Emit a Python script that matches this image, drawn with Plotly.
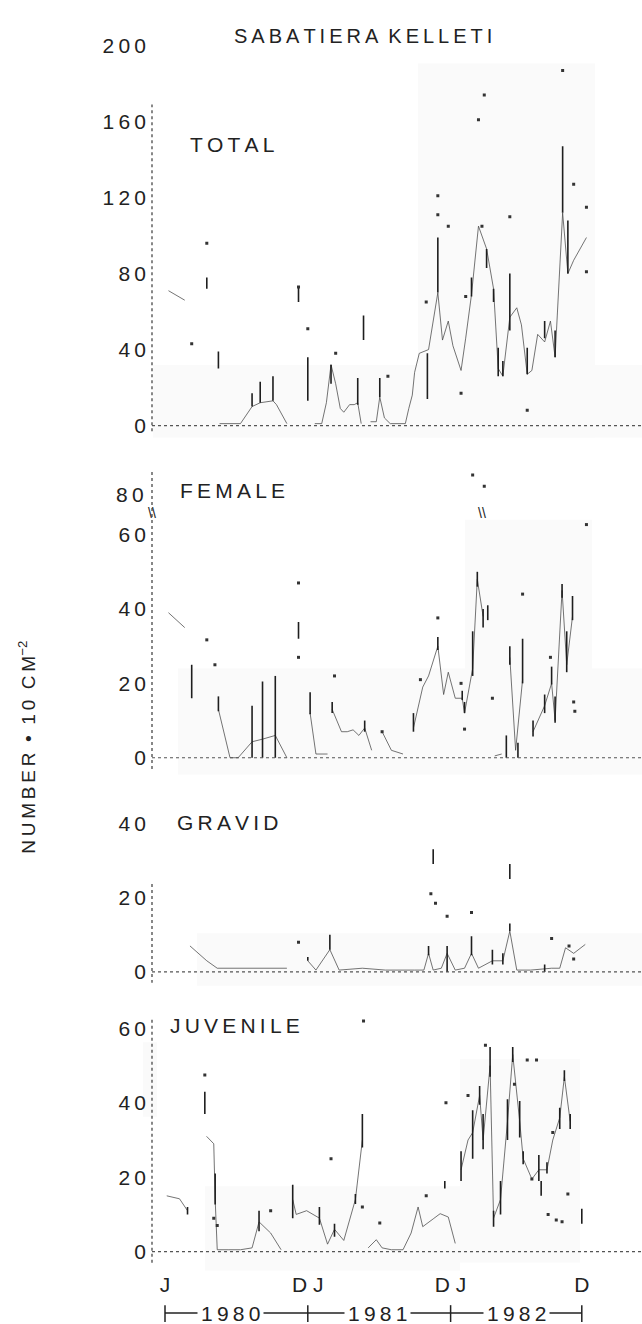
import plotly.graph_objects as go

W, H = 642, 1324
FONT = "Liberation Sans, Arial, sans-serif"
INK = "#222222"

def sp(s):
    return "\u2009".join(s)

def px(x):
    return x / W

def py(y):
    return 1 - y / H

# ---------------- data (months since Jan 1980) ----------------
# TOTAL
tot_t = [0.3, 1.7, None, 4.7, 5.6, 6.5, 7.5, 8.2, 9.3, 9.6, 10.5, None,
         12.9, 13.5, 13.9, 14.3, 14.7, 15.1, 15.4, 15.9, 16.3, 16.6, 16.9, None,
         17.7, 18.2, 18.5, 18.9, 19.4, 20.0, 20.7, 21.0, 21.3, 21.5, 21.9, 22.7,
         23.5, 23.9, 24.4, 24.8, 25.5, 25.9, 26.4, 27.0, 27.7, 28.3, 28.7, 29.1,
         29.7, 30.3, 30.7, 31.2, 31.6, 32.1, 32.7, 33.2, 33.6, 34.25, 34.7, 35.2, 36.3]
tot_v = [71, 66, None, 1, 1, 1, 10, 12, 13, 11, 1, None,
         1, 1, 12, 32, 22, 9, 7, 11, 11, 12, 1, None,
         2, 2, 15, 4, 1, 1, 1, 9, 16, 28, 38, 40,
         70, 45, 55, 42, 29, 46, 69, 105, 93, 72, 30, 26,
         57, 62, 53, 27, 29, 48, 44, 55, 36, 112, 80, 87, 99]
tot_bar_t = [3.6, 4.6, 7.5, 8.2, 9.3, 11.5, 12.3, 14.3, 16.6, 17.1, 18.5, 22.6, 23.5,
             26.4, 27.7, 28.3, 28.7, 29.1, 29.7, 31.2, 32.7, 33.6, 34.25, 34.7]
tot_bar_lo = [72, 30, 10, 12, 13, 65, 13, 22, 11, 45, 15, 14, 70,
              68, 83, 65, 26, 26, 50, 27, 46, 36, 112, 80]
tot_bar_hi = [78, 39, 17, 23, 26, 73, 36, 32, 25, 58, 25, 38, 99,
              78, 93, 72, 41, 34, 80, 41, 55, 50, 147, 108]
tot_dot_t = [2.3, 3.6, 11.5, 12.3, 14.7, 19.2, 22.5, 23.5, 23.5, 24.4, 25.5, 25.9,
             27.0, 27.5, 27.3, 29.7, 31.2, 34.25, 35.2, 36.3, 36.3]
tot_dot_v = [43, 96, 73, 51, 38, 26, 65, 121, 111, 105, 17, 68,
             161, 174, 105, 110, 8, 187, 127, 115, 81]

# FEMALE
fem_t = [0.3, 1.7, None, 4.6, 5.6, 6.3, 7.5, 8.4, 9.5, 10.5, None, 12.5, 13.0, 14.0, None,
         14.4, 14.8, 15.2, 15.7, 16.2, 16.7, 17.2, 17.8, None, 18.7, 19.5, 20.5, None,
         21.4, 22.2, 22.7, 23.5, 24.0, 24.4, 25.0, 25.6, 25.8, 26.5, 26.9, 27.4, None,
         28.4, 29.0, None, 29.7, 30.2, 30.8, None, 31.7, 32.3, 32.7, 33.3, 33.6, 34.2, 34.6, 35.1]
fem_v = [39, 35, None, 13, 0, 0, 4.3, 5, 6, 0, None, 12, 1, 1, None,
         13, 10, 7, 7, 7.5, 6, 8, 2, None, 7, 2, 1, None,
         8, 19, 22, 30, 17, 23, 16, 16, 12, 24, 48, 38, None,
         0.5, 1, None, 27, 2, 21, None, 7, 11, 14, 20, 10, 45, 25, 38]
fem_bar_t = [2.3, 4.6, 7.5, 8.4, 9.5, 11.5, 12.5, 14.4, 17.2, 21.4, 23.5, 25.6, 25.8,
             26.5, 26.9, 27.4, 27.8, 29.4, 29.7, 30.4, 30.8, 31.7, 32.7, 33.3, 33.6,
             34.2, 34.6, 35.1]
fem_bar_lo = [16, 12.5, 0, 0, 0, 32, 11.7, 12, 7, 7, 29, 15.5, 12,
              22, 46, 35, 37, 0, 25, 0, 20, 5.7, 12, 19.7, 9.4,
              43, 23, 37]
fem_bar_hi = [25, 16.5, 14, 20.5, 22, 36.5, 17.6, 15, 10, 12, 32.5, 18, 15,
              34, 50, 40, 41, 6, 30, 4, 32, 10, 17, 24.5, 16.5,
              46.7, 34, 43.5]
fem_dot_t = [3.6, 4.3, 11.5, 11.5, 14.6, 18.7, 22.0, 23.5, 25.5, 25.8, 26.5, 27.5,
             28.2, 30.8, 33.2, 35.2, 35.3, 36.3]
fem_dot_v = [31.7, 25, 47, 27, 22, 7, 21, 37.6, 20, 7.7, 76, 73,
             16, 44, 27, 15, 12.5, 62.7]

# GRAVID
grav_t = [2.15, 3.6, 4.5, 7.0, 8.5, 10.5, None, 12.3, 13.0, 14.2, 15.0, 17.0, 19.0,
          21.5, 22.3, 22.7, 23.1, 23.8, 24.3, 25.0, 25.8, 26.4, 27.0, 28.2, 29.1,
          29.7, 30.3, 31.5, 32.8, 33.3, 34.0, 34.5, 35.2, 36.2]
grav_v = [7, 3, 1, 1, 1, 1, None, 3, 0.5, 6, 0.5, 1, 0.5,
          0.5, 0.5, 5, 0.5, 1, 5, 0.5, 1, 5, 1, 3, 3,
          11, 0.5, 0.5, 1, 1, 1, 6.5, 5, 7.4]
grav_bar_t = [12.3, 14.2, 22.7, 23.1, 24.3, 26.4, 28.2, 29.1, 29.7, 29.7, 32.7]
grav_bar_lo = [3, 6, 4.5, 29, 0, 4.5, 2, 2, 25, 11, 0]
grav_bar_hi = [4, 10, 7, 33, 7, 9.6, 6, 5, 29, 13, 2]
grav_dot_t = [11.5, 22.9, 23.3, 24.3, 26.4, 33.3, 35.2, 34.8]
grav_dot_v = [8, 21, 18.5, 15, 16, 9, 3.5, 7]

# JUVENILE
juv_t = [0.15, 1.25, 1.94, None, 3.58, 4.2, 4.32, 4.5, 5.5, 6.5, 7.5, 8.1, 9.1, 10.0, None,
         11.0, 11.3, 12.2, 13.3, 14.0, 14.6, 15.4, 16.4, 17.0, None,
         17.5, 18.2, 18.7, 19.5, 20.5, 21.2, 21.8, 22.2, 23.1, 23.7, 24.4, 25.0, None,
         25.5, 26.1, 26.5, 27.1, 27.4, 28.0, 28.3, 28.9, 29.5, 29.95, 30.55, 30.85,
         31.6, 32.2, 32.9, 33.4, 34.0, 34.4, 34.9]
juv_v = [15, 14.2, 11, None, 31, 29, 14, 0.5, 0.5, 0.5, 1, 8, 5, 0.5, None,
         14, 10, 11, 9, 2, 6, 3, 14, 30, None,
         1, 3.2, 1, 0.5, 0.5, 5, 12, 6.7, 8.8, 10.2, 9.3, 2.2, None,
         22, 30, 32, 42, 30, 50, 9, 14, 35, 53, 35, 25,
         19.5, 22, 22, 30, 36, 47, 35]
juv_bar_t = [1.94, 3.43, 4.32, 8.1, 11.0, 13.3, 14.6, 16.4, 17.0, 24.1, 25.5, 26.5,
             27.1, 27.4, 28.0, 28.3, 28.9, 29.5, 29.95, 30.55, 30.85, 32.2, 32.4,
             32.9, 34.0, 34.4, 34.9, 35.9]
juv_bar_lo = [10, 37, 12.7, 5.5, 9, 7.2, 4, 12.8, 28, 17, 19, 25,
              39.5, 27.5, 47, 6.7, 10, 30, 51, 30.7, 23.5, 19, 15,
              21, 33, 45.9, 33, 7.5]
juv_bar_hi = [12, 43, 21, 11, 18, 12, 7.5, 15.5, 37, 19, 27, 38,
              44.5, 37, 55, 11, 19, 41, 55, 40.5, 27, 26, 19,
              24, 38.7, 48.8, 37, 11.5]
juv_dot_t = [3.43, 4.2, 4.5, 9.1, 14.3, 17.0, 17.1, 18.5, 22.5, 24.2, 26.1, 27.6,
             30.1, 31.2, 32.0, 31.6, 33.4, 34.7, 33.0, 33.7, 34.2]
juv_dot_v = [47.5, 9, 7, 11, 25, 12, 62, 7.7, 15, 40, 42, 55.5,
             45, 51.5, 51.5, 19.5, 32, 15.5, 10, 8.5, 8]

panel_names = ["TOTAL", "FEMALE", "GRAVID", "JUVENILE"]
x_tick_vals = [0, 12.3, 24.6, 35.9]
x_tick_text = ["J", "D J", "D J", "D"]
year_labels = ["1980", "1981", "1982"]
year_pos = [5.6, 18.3, 30.3]
year_bounds = [0, 12.3, 24.6, 35.9]

# ---------------- layout geometry (pixels) ----------------
AX_X = 152
X_RANGE = [(AX_X - 165) / 11.61, (W - 165) / 11.61]
# (top px, bottom px, zero px, px per unit, tick values, dotted-axis extent)
panels = [
    (34, 430, 418, 1.915, [0, 40, 80, 120, 160, 200], (-3, 169)),
    (463, 766, 753, 3.75, [0, 20, 40, 60], (-3, 77)),
    (808, 980, 969, 3.75, [0, 20, 40], (-3, 24)),
    (1014, 1264, 1251, 3.75, [0, 20, 40, 60], (-3, 63)),
]
series = [
    (tot_t, tot_v, tot_bar_t, tot_bar_lo, tot_bar_hi, tot_dot_t, tot_dot_v),
    (fem_t, fem_v, fem_bar_t, fem_bar_lo, fem_bar_hi, fem_dot_t, fem_dot_v),
    (grav_t, grav_v, grav_bar_t, grav_bar_lo, grav_bar_hi, grav_dot_t, grav_dot_v),
    (juv_t, juv_v, juv_bar_t, juv_bar_lo, juv_bar_hi, juv_dot_t, juv_dot_v),
]

fig = go.Figure()
layout = dict(
    width=W, height=H, margin=dict(l=0, r=0, t=0, b=0),
    paper_bgcolor="white", plot_bgcolor="rgba(0,0,0,0)",
    showlegend=False, font=dict(family=FONT, size=21, color=INK),
)
shapes = []
annotations = []

# faint scan-tone rectangles
for (x0, y0, x1, y1) in [(418, 53, 595, 430), (153, 357, 642, 430),
                         (465, 513, 592, 770), (178, 663, 642, 770),
                         (197, 930, 642, 983),
                         (460, 1057, 580, 1262), (205, 1185, 460, 1270),
                         (143, 1040, 157, 1115)]:
    shapes.append(dict(type="rect", xref="paper", yref="paper", layer="below",
                       x0=px(x0), x1=px(x1), y0=py(y1), y1=py(y0),
                       fillcolor="#fafafa", line=dict(width=0)))

for i, (top, bot, zero, ppu, tv, ext) in enumerate(panels):
    n = i + 1
    xa = "x" if n == 1 else f"x{n}"
    ya = "y" if n == 1 else f"y{n}"
    xkey = "xaxis" if n == 1 else f"xaxis{n}"
    ykey = "yaxis" if n == 1 else f"yaxis{n}"
    ymin = (zero - bot) / ppu
    ymax = (zero - top) / ppu
    layout[xkey] = dict(domain=[px(AX_X), 1], range=X_RANGE, showgrid=False,
                        zeroline=False, showline=False, ticks="",
                        showticklabels=(n == 4), anchor=ya)
    if n == 4:
        layout[xkey].update(tickmode="array", tickvals=x_tick_vals,
                            ticktext=x_tick_text, ticklabelstandoff=6,
                            tickfont=dict(family=FONT, size=21, color=INK))
    layout[ykey] = dict(domain=[py(bot), py(top)], range=[ymin, ymax], showgrid=False,
                        zeroline=False, showline=False, ticks="",
                        tickmode="array", tickvals=tv, ticktext=[sp(str(v)) for v in tv],
                        ticklabelstandoff=5, anchor=xa,
                        tickfont=dict(family=FONT, size=21, color=INK))

    t, v, bt, blo, bhi, dt, dv = series[i]
    fig.add_trace(go.Scatter(x=t, y=v, mode="lines", xaxis=xa, yaxis=ya,
                             connectgaps=False,
                             line=dict(color="rgba(70,70,70,0.75)", width=1)))
    bx, by = [], []
    for tt, lo, hi in zip(bt, blo, bhi):
        bx += [tt, tt, None]
        by += [lo, hi, None]
    fig.add_trace(go.Scatter(x=bx, y=by, mode="lines", xaxis=xa, yaxis=ya,
                             line=dict(color="#1e1e1e", width=1.6)))
    fig.add_trace(go.Scatter(x=dt, y=dv, mode="markers", xaxis=xa, yaxis=ya,
                             marker=dict(color="#333333", size=3, symbol="square")))

    # dotted baseline and dotted y axis
    shapes.append(dict(type="line", xref="paper", yref=ya, x0=px(AX_X), x1=1,
                       y0=0, y1=0, line=dict(color="#555555", width=1.2, dash="dot")))
    shapes.append(dict(type="line", xref="paper", yref=ya, x0=px(AX_X), x1=px(AX_X),
                       y0=ext[0], y1=ext[1],
                       line=dict(color="#555555", width=1.4, dash="dot")))

# panel names
for name, (x, y) in zip(panel_names, [(232, 135), (232, 484), (228, 818), (235, 1023)]):
    annotations.append(dict(text=sp(name), xref="paper", yref="paper", x=px(x), y=py(y),
                            showarrow=False, xanchor="center", yanchor="middle",
                            font=dict(family=FONT, size=21, color=INK)))

# title
annotations.append(dict(text=sp("SABATIERA") + "  " + sp("KELLETI"), xref="paper", yref="paper",
                        x=px(363), y=py(25), showarrow=False, xanchor="center",
                        yanchor="middle", font=dict(family=FONT, size=20, color=INK)))

# y title
annotations.append(dict(text=sp("NUMBER") + "  •  " + sp("10") + "  " + sp("CM") + "<sup>−2</sup>",
                        xref="paper", yref="paper", x=px(27), y=py(743),
                        textangle=-90, showarrow=False, xanchor="center", yanchor="middle",
                        font=dict(family=FONT, size=19, color=INK)))

# female axis break label and marks
annotations.append(dict(text=sp("80"), xref="paper", yref="paper", x=px(146), y=py(488),
                        showarrow=False, xanchor="right", yanchor="middle",
                        font=dict(family=FONT, size=21, color=INK)))
for bx_ in (152, 482):
    annotations.append(dict(text="\\\\", xref="paper", yref="paper", x=px(bx_), y=py(506),
                            showarrow=False, xanchor="center", yanchor="middle",
                            font=dict(family=FONT, size=14, color=INK)))

# year bar
yb = py(1313)
shapes.append(dict(type="line", xref="x4", yref="paper", x0=year_bounds[0], x1=year_bounds[-1],
                   y0=yb, y1=yb, line=dict(color=INK, width=1.5)))
for b in year_bounds:
    shapes.append(dict(type="line", xref="x4", yref="paper", x0=b, x1=b,
                       y0=py(1305), y1=py(1322), line=dict(color=INK, width=1.5)))
for lab, pos in zip(year_labels, year_pos):
    annotations.append(dict(text=sp(lab), xref="x4", yref="paper", x=pos, y=yb,
                            showarrow=False, xanchor="center", yanchor="middle",
                            bgcolor="white", borderpad=3,
                            font=dict(family=FONT, size=21, color=INK)))

layout["shapes"] = shapes
layout["annotations"] = annotations
fig.update_layout(**layout)
fig.write_html("out.html")
